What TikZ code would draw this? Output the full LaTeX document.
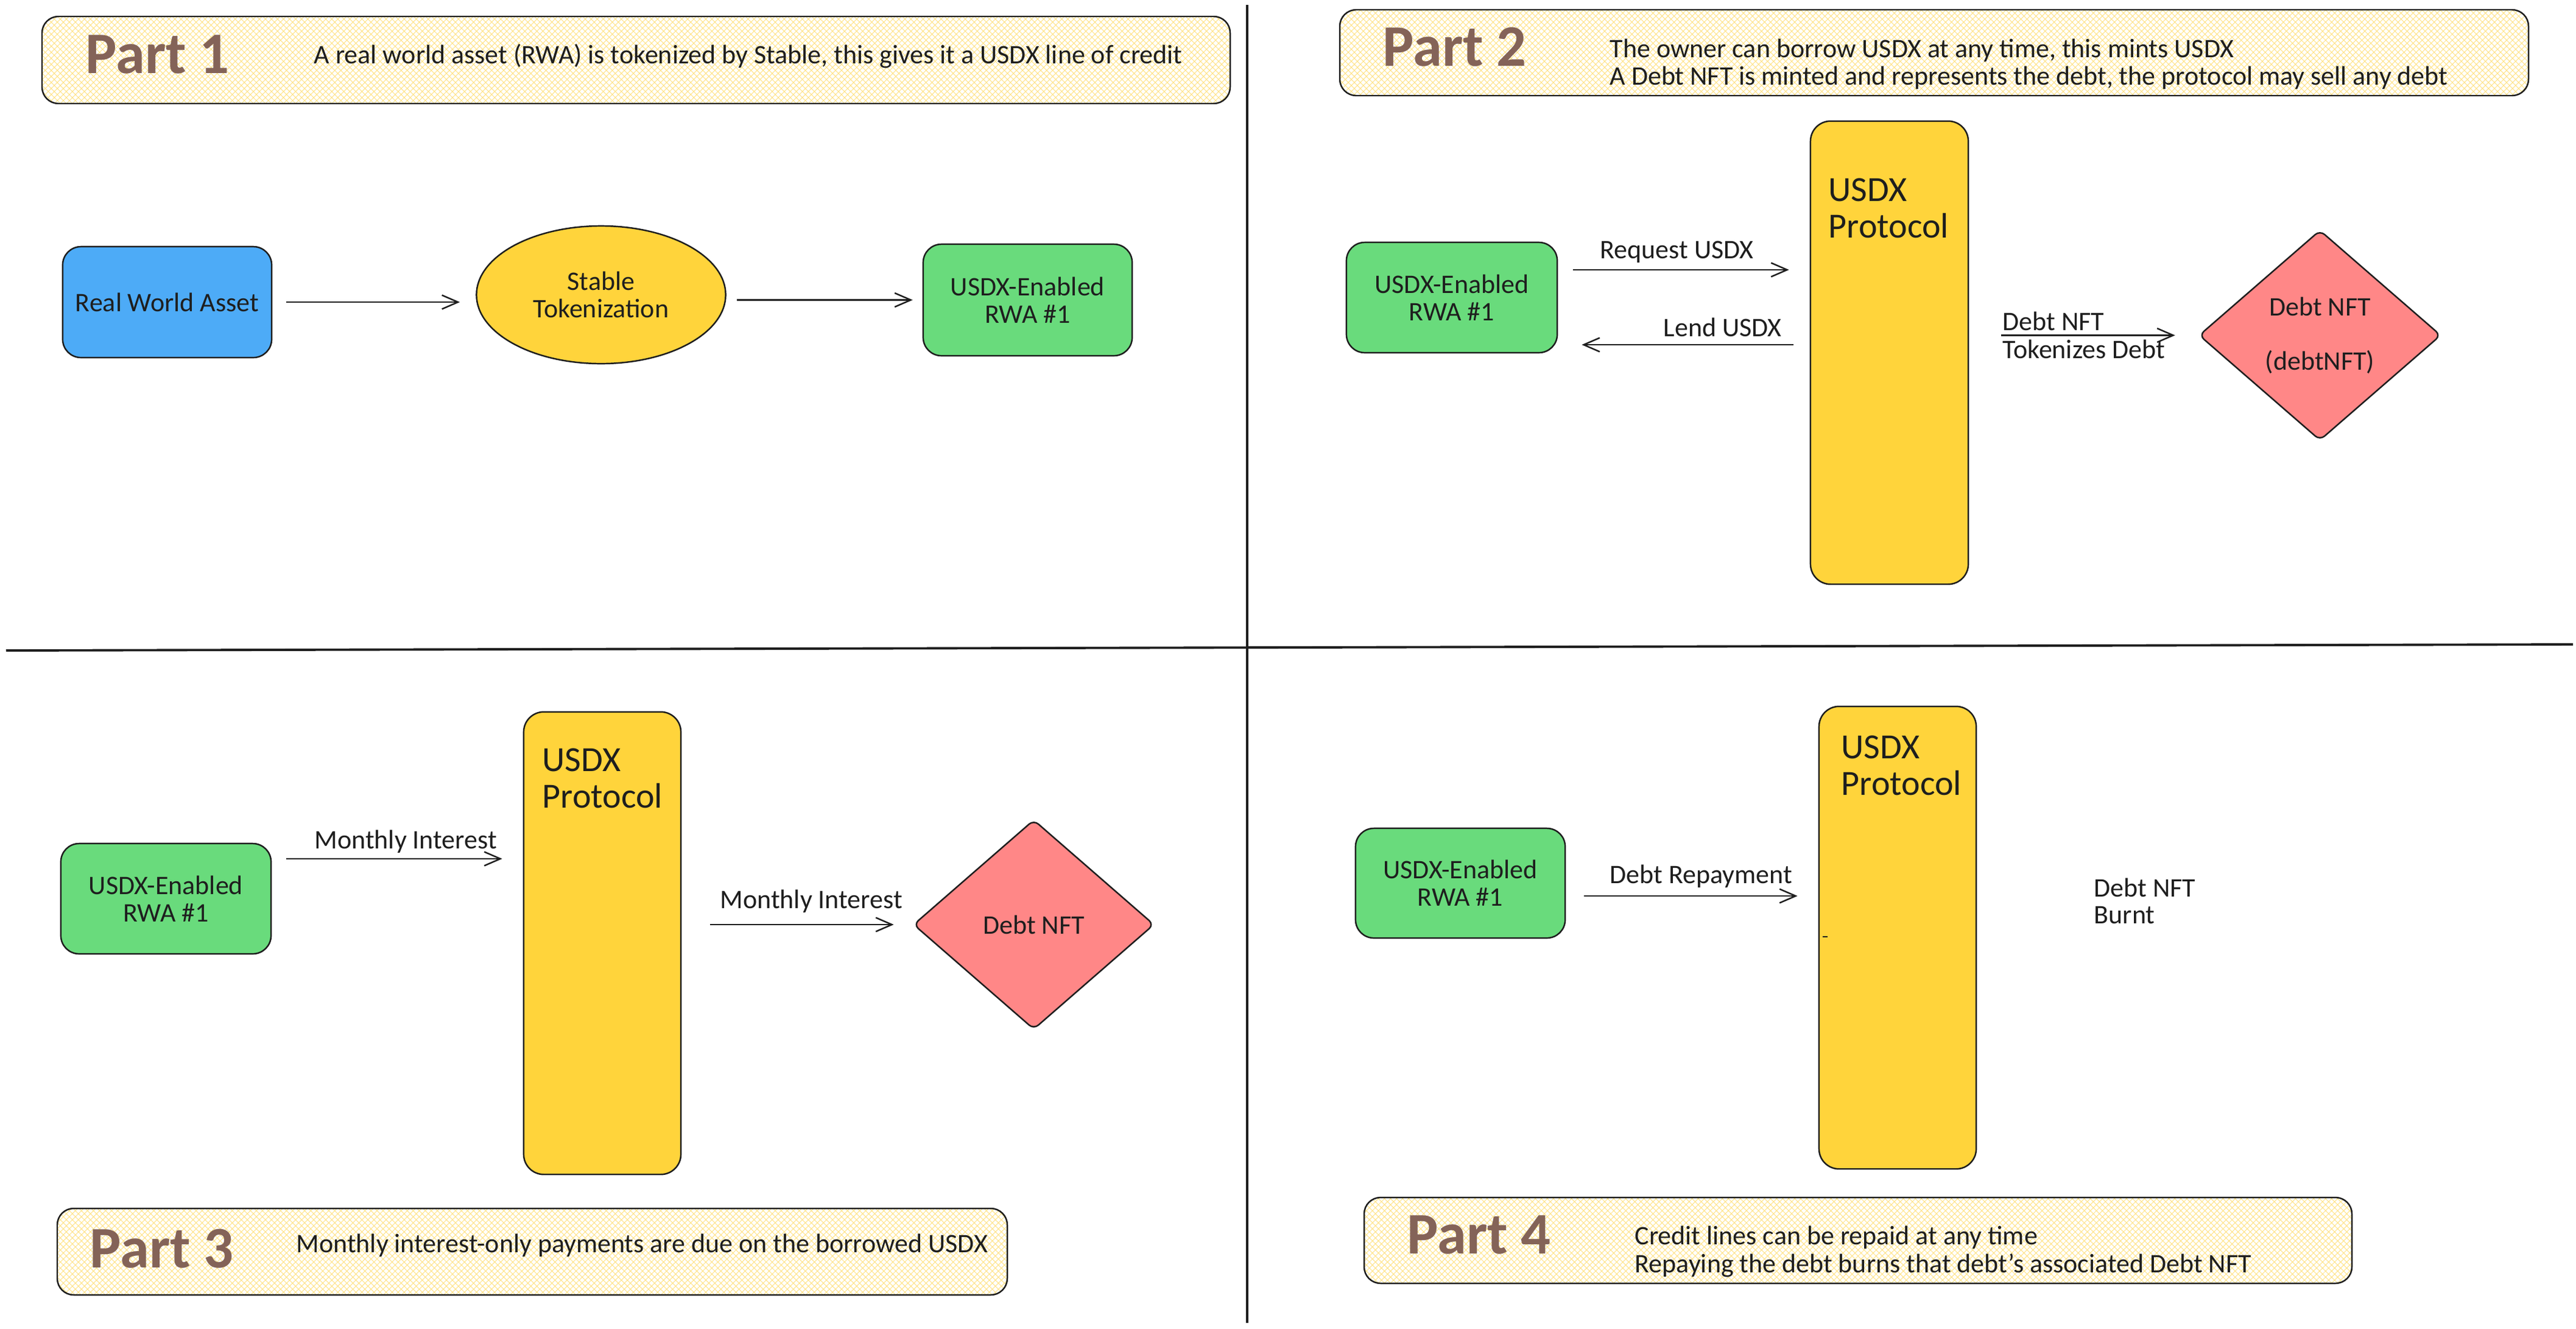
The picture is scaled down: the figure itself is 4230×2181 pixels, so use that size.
\documentclass[tikz,border=0pt]{standalone}
\usepackage{fontspec}
\setmainfont{Carlito}
\usetikzlibrary{shapes.geometric,arrows.meta,patterns.meta}

\definecolor{trazo}{HTML}{1E1E1E}
\definecolor{azul}{HTML}{4DABF7}
\definecolor{amarillo}{HTML}{FFD43B}
\definecolor{verde}{HTML}{69DB7C}
\definecolor{rojo}{HTML}{FF8787}
\definecolor{cafe}{HTML}{846358}
\definecolor{trama}{HTML}{FFE38A}

\newcommand{\letranormal}{\fontsize{12.5}{12.8}\selectfont}
\newcommand{\letraproto}{\fontsize{16.5}{17}\selectfont}
\newcommand{\letraparte}{\fontsize{27.5}{30}\selectfont\bfseries}

\tikzset{
  caja/.style={draw=trazo, line width=0.7pt, rounded corners=0.3cm, inner sep=0pt,
    align=center, text=trazo, font=\letranormal},
  elipse/.style={ellipse, draw=trazo, fill=amarillo, line width=0.7pt, inner sep=0pt,
    align=center, text=trazo, font=\letranormal},
  rombo/.style={diamond, draw=trazo, fill=rojo, line width=0.7pt, rounded corners=0.1cm,
    inner sep=0pt, align=center, text=trazo, font=\letranormal},
  protocolo/.style={draw=trazo, fill=amarillo, line width=0.7pt, rounded corners=0.33cm,
    inner sep=0pt},
  protonombre/.style={anchor=base west, inner sep=0pt, text=trazo, font=\letraproto},
  texto/.style={anchor=base west, inner sep=0pt, text=trazo, font=\letranormal},
  parte/.style={anchor=base west, inner sep=0pt, text=cafe, font=\letraparte},
  flecha/.style={draw=trazo, line width=0.7pt, -{Straight Barb[length=7.5pt,width=6.5pt]}},
  banda/.style={draw=trazo, line width=0.7pt, rounded corners=0.27cm,
    pattern={Hatch[angle=45,distance=0.07cm,line width=0.3pt]}, pattern color=trama},
  divisor/.style={draw=trazo, line width=1.1pt}
}

\begin{document}
\begin{tikzpicture}[x=0.01cm, y=-0.01cm]
  \useasboundingbox (0,0) rectangle (4230,2181);

  % Divisiones
  \draw[divisor] (2048,8) -- (2048,2172);
  \draw[divisor] (10,1068) -- (4225,1058);

  % Parte 1
  \draw[banda] (69,27) rectangle (2020,170);
  \node[parte] (parte1) at (140,120) {Part 1};
  \node[texto] (desc1) at (515,104) {A real world asset (RWA) is tokenized by Stable, this gives it a USDX line of credit};

  \node[caja, fill=azul, minimum width=3.43cm, minimum height=1.82cm] (activo) at (274.5,496) {Real World Asset};
  \node[elipse, minimum width=4.09cm, minimum height=2.26cm] (estable) at (987,484) {Stable\\Tokenization};
  \node[caja, fill=verde, minimum width=3.43cm, minimum height=1.83cm] (rwa1) at (1687.5,492.5) {USDX-Enabled\\RWA \#1};

  \draw[flecha, shorten <=0.23cm, shorten >=0.26cm] (activo.east) -- (activo.east -| estable.west);
  \draw[flecha, shorten <=0.17cm, shorten >=0.16cm] (estable.east |- rwa1.west) -- (rwa1.west);

  % Parte 2
  \draw[banda] (2200,16) rectangle (4152,157);
  \node[parte] (parte2) at (2270,108) {Part 2};
  \node[texto] (desc2a) at (2643,94) {The owner can borrow USDX at any time, this mints USDX};
  \node[texto] (desc2b) at (2643,139) {A Debt NFT is minted and represents the debt, the protocol may sell any debt};

  \node[caja, fill=verde, minimum width=3.46cm, minimum height=1.81cm] (rwa2) at (2384,488.5) {USDX-Enabled\\RWA \#1};
  \node[protocolo, minimum width=2.59cm, minimum height=7.6cm] (proto2) at (3102.5,579) {};
  \node[protonombre] (proto2a) at (3002,330) {USDX};
  \node[protonombre] (proto2b) at (3002,390) {Protocol};
  \node[rombo, minimum width=3.97cm, minimum height=3.45cm] (nft2) at (3809.5,550.5) {Debt NFT\\[12.5pt](debtNFT)};

  \draw[flecha, shorten <=0.25cm, shorten >=0.34cm] ([yshift=0.455cm]rwa2.east) -- ([yshift=0.455cm]rwa2.east -| proto2.west);
  \draw[flecha, shorten <=0.27cm, shorten >=0.39cm] ([yshift=-0.775cm]rwa2.east -| proto2.west) -- ([yshift=-0.775cm]rwa2.east);
  \draw[flecha, shorten <=0.53cm, shorten >=0.38cm] (proto2.east |- nft2.west) -- (nft2.west);
  \node[texto] (pide) at (2627,424) {Request USDX};
  \node[texto] (presta) at (2731,552) {Lend USDX};
  \node[texto] (deuda2) at (3288,542) {Debt NFT};
  \node[texto] (tokeniza) at (3288,588) {Tokenizes Debt};

  % Parte 3
  \draw[banda] (94,1984) rectangle (1654,2126);
  \node[parte] (parte3) at (147,2081) {Part 3};
  \node[texto] (desc3) at (486,2056) {Monthly interest-only payments are due on the borrowed USDX};

  \node[caja, fill=verde, minimum width=3.45cm, minimum height=1.81cm] (rwa3) at (272.5,1475.5) {USDX-Enabled\\RWA \#1};
  \node[protocolo, minimum width=2.58cm, minimum height=7.59cm] (proto3) at (989,1548.5) {};
  \node[protonombre] (proto3a) at (890,1266) {USDX};
  \node[protonombre] (proto3b) at (890,1326) {Protocol};
  \node[rombo, minimum width=3.95cm, minimum height=3.44cm] (nft3) at (1697.5,1518) {Debt NFT};

  \draw[flecha, shorten <=0.24cm, shorten >=0.34cm] ([yshift=0.655cm]rwa3.east) -- ([yshift=0.655cm]rwa3.east -| proto3.west);
  \draw[flecha, shorten <=0.47cm, shorten >=0.31cm] (proto3.east |- nft3.west) -- (nft3.west);
  \node[texto] (interes1) at (516,1393) {Monthly Interest};
  \node[texto] (interes2) at (1182,1491) {Monthly Interest};

  % Parte 4
  \draw[banda] (2240,1966) rectangle (3862,2107);
  \node[parte] (parte4) at (2310,2058) {Part 4};
  \node[texto] (desc4a) at (2684,2043) {Credit lines can be repaid at any time};
  \node[texto] (desc4b) at (2684,2089) {Repaying the debt burns that debt's associated Debt NFT};

  \node[caja, fill=verde, minimum width=3.44cm, minimum height=1.8cm] (rwa4) at (2398,1450) {USDX-Enabled\\RWA \#1};
  \node[protocolo, minimum width=2.58cm, minimum height=7.59cm] (proto4) at (3116,1539.5) {};
  \node[protonombre] (proto4a) at (3023,1245) {USDX};
  \node[protonombre] (proto4b) at (3023,1305) {Protocol};
  \draw[draw=trazo, line width=0.7pt] (2993,1538) -- (3001,1538);

  \draw[flecha, shorten <=0.3cm, shorten >=0.34cm] ([yshift=-0.21cm]rwa4.east) -- ([yshift=-0.21cm]rwa4.east -| proto4.west);
  \node[texto] (repago) at (2643,1450) {Debt Repayment};
  \node[texto] (quema1) at (3438,1472) {Debt NFT};
  \node[texto] (quema2) at (3438,1516) {Burnt};
\end{tikzpicture}
\end{document}
